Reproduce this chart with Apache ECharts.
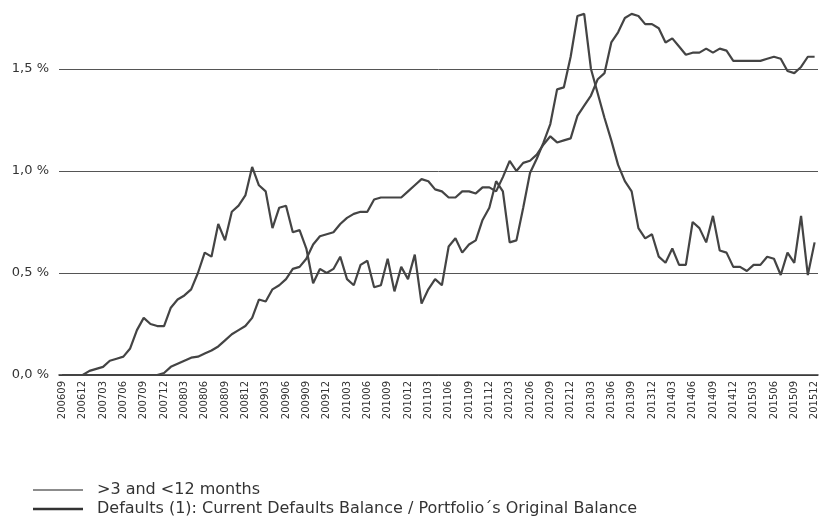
<!DOCTYPE html>
<html>
<head>
<meta charset="utf-8">
<script src="https://cdn.jsdelivr.net/npm/echarts@6/dist/echarts.min.js"></script>
<style>
html,body{margin:0;padding:0;background:#fff;}
#main{width:823px;height:526px;}
</style>
</head>
<body>
<div id="main"></div>
<script>
var months = [
  '200609','200610','200611','200612','200701','200702','200703','200704','200705','200706','200707','200708',
  '200709','200710','200711','200712','200801','200802','200803','200804','200805','200806','200807','200808',
  '200809','200810','200811','200812','200901','200902','200903','200904','200905','200906','200907','200908',
  '200909','200910','200911','200912','201001','201002','201003','201004','201005','201006','201007','201008',
  '201009','201010','201011','201012','201101','201102','201103','201104','201105','201106','201107','201108',
  '201109','201110','201111','201112','201201','201202','201203','201204','201205','201206','201207','201208',
  '201209','201210','201211','201212','201301','201302','201303','201304','201305','201306','201307','201308',
  '201309','201310','201311','201312','201401','201402','201403','201404','201405','201406','201407','201408',
  '201409','201410','201411','201412','201501','201502','201503','201504','201505','201506','201507','201508',
  '201509','201510','201511','201512'
];

// >3 and <12 months
var arrears = [
  0, 0, 0, 0, 0.02, 0.03, 0.04, 0.07, 0.08, 0.09, 0.13, 0.22,
  0.28, 0.25, 0.24, 0.24, 0.33, 0.37, 0.39, 0.42, 0.50, 0.60, 0.58, 0.74,
  0.66, 0.80, 0.83, 0.88, 1.02, 0.93, 0.90, 0.72, 0.82, 0.83, 0.70, 0.71,
  0.62, 0.45, 0.52, 0.50, 0.52, 0.58, 0.47, 0.44, 0.54, 0.56, 0.43, 0.44,
  0.57, 0.41, 0.53, 0.47, 0.59, 0.35, 0.42, 0.47, 0.44, 0.63, 0.67, 0.60,
  0.64, 0.66, 0.76, 0.82, 0.95, 0.90, 0.65, 0.66, 0.82, 0.99, 1.06, 1.14,
  1.23, 1.40, 1.41, 1.56, 1.76, 1.77, 1.50, 1.38, 1.26, 1.15, 1.03, 0.95,
  0.90, 0.72, 0.67, 0.69, 0.58, 0.55, 0.62, 0.54, 0.54, 0.75, 0.72, 0.65,
  0.78, 0.61, 0.60, 0.53, 0.53, 0.51, 0.54, 0.54, 0.58, 0.57, 0.49, 0.60,
  0.55, 0.78, 0.49, 0.65
];

// Defaults (1): current defaults balance / original balance
var defaults = [
  0, 0, 0, 0, 0, 0, 0, 0, 0, 0, 0, 0,
  0, 0, 0, 0.01, 0.04, 0.055, 0.07, 0.085, 0.09, 0.105, 0.12, 0.14,
  0.17, 0.20, 0.22, 0.24, 0.28, 0.37, 0.36, 0.42, 0.44, 0.47, 0.52, 0.53,
  0.57, 0.64, 0.68, 0.69, 0.70, 0.74, 0.77, 0.79, 0.80, 0.80, 0.86, 0.87,
  0.87, 0.87, 0.87, 0.90, 0.93, 0.96, 0.95, 0.91, 0.90, 0.87, 0.87, 0.90,
  0.90, 0.89, 0.92, 0.92, 0.90, 0.97, 1.05, 1.00, 1.04, 1.05, 1.08, 1.13,
  1.17, 1.14, 1.15, 1.16, 1.27, 1.32, 1.37, 1.45, 1.48, 1.63, 1.68, 1.75,
  1.77, 1.76, 1.72, 1.72, 1.70, 1.63, 1.65, 1.61, 1.57, 1.58, 1.58, 1.60,
  1.58, 1.60, 1.59, 1.54, 1.54, 1.54, 1.54, 1.54, 1.55, 1.56, 1.55, 1.49,
  1.48, 1.51, 1.56, 1.56
];

var seriesNames = ['>3 and <12 months', 'Defaults (1): Current Defaults Balance / Portfolio\u00B4s Original Balance'];

function legendRow(name, top, color, thick) {
  return {
    orient: 'horizontal',
    left: 28,
    top: top,
    icon: 'rect',
    itemWidth: 50,
    itemHeight: thick,
    selectedMode: false,
    textStyle: { fontSize: 16, color: '#333', fontFamily: 'DejaVu Sans', padding: [0, 0, 0, 9] },
    data: [{ name: name, itemStyle: { color: color } }]
  };
}

var myChart = echarts.init(document.getElementById('main'));
var option = {
  animation: false,
  backgroundColor: '#fff',
  textStyle: { fontFamily: 'DejaVu Sans' },
  grid: { left: 59, right: 5, top: -33, bottom: 151, outerBoundsMode: 'none', containLabel: false },
  legend: [
    legendRow(seriesNames[0], 477, '#666', 1.5),
    legendRow(seriesNames[1], 496, '#333', 2.5)
  ],
  xAxis: {
    type: 'category',
    data: months,
    boundaryGap: true,
    axisLine: { lineStyle: { color: '#333', width: 1.5 } },
    axisTick: { interval: 2, alignWithLabel: true, length: 4, lineStyle: { color: '#333' } },
    axisLabel: { interval: 2, rotate: 90, fontSize: 10, color: '#333', margin: 6 },
    splitLine: { show: false }
  },
  yAxis: {
    type: 'value',
    min: 0,
    max: 2,
    interval: 0.5,
    axisLine: { show: false },
    axisTick: { show: false },
    axisLabel: {
      fontSize: 13,
      color: '#333',
      margin: 10,
      formatter: function (v) { return v.toFixed(1).replace('.', ',') + ' %'; }
    },
    splitLine: { lineStyle: { color: '#555', width: 1 } }
  },
  series: [
    {
      name: seriesNames[0],
      type: 'line',
      data: arrears,
      symbol: 'none',
      lineStyle: { color: '#444', width: 2.2 },
      itemStyle: { color: '#444' }
    },
    {
      name: seriesNames[1],
      type: 'line',
      data: defaults,
      symbol: 'none',
      lineStyle: { color: '#444', width: 2.2 },
      itemStyle: { color: '#444' }
    }
  ]
};
myChart.setOption(option);
</script>
</body>
</html>
